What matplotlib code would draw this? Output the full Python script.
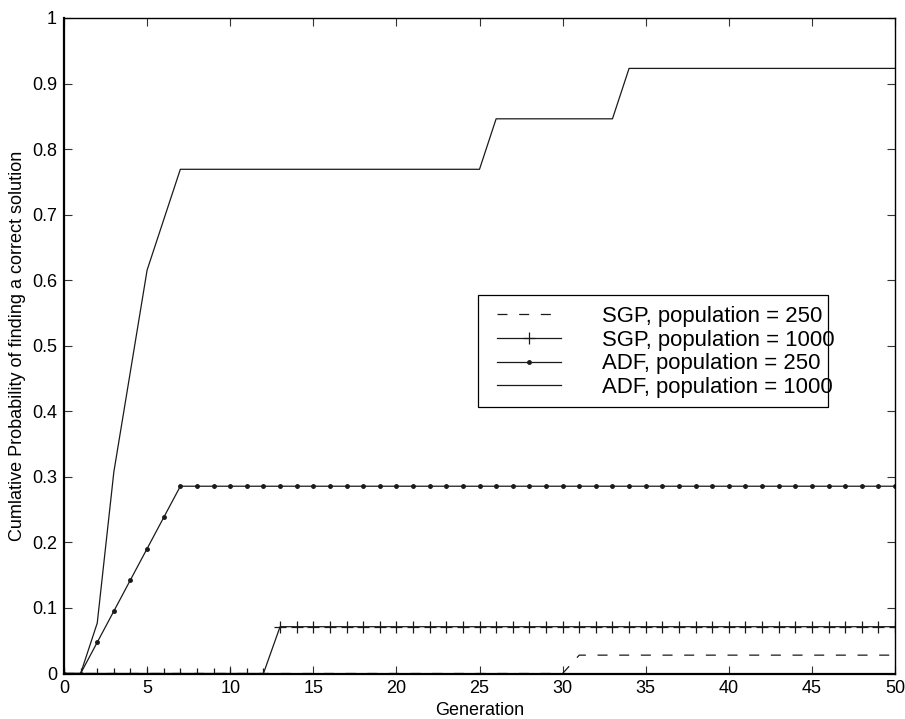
import matplotlib
matplotlib.use("Agg")
import matplotlib.pyplot as plt
from matplotlib.patches import Rectangle
import numpy as np

plt.rcParams['font.family'] = ['Liberation Sans', 'DejaVu Sans']
plt.rcParams['lines.scale_dashes'] = False

generations = list(range(0, 51))

# SGP, population = 250
sgp250 = [0.0] * 31 + [0.028] * 20
# SGP, population = 1000
sgp1000 = [0.0] * 13 + [0.0714] * 38
# ADF, population = 250
adf250 = [0.0, 0.0, 0.0476, 0.0952, 0.1429, 0.1905, 0.2381] + [0.2857] * 44
# ADF, population = 1000
adf1000 = ([0.0, 0.0, 0.0769, 0.3077, 0.4615, 0.6154, 0.6923]
           + [0.7692] * 19 + [0.8462] * 8 + [0.9231] * 17)

labels = ["SGP, population = 250", "SGP, population = 1000",
          "ADF, population = 250", "ADF, population = 1000"]
xticks = list(range(0, 51, 5))
yticks = [round(0.1 * i, 1) for i in range(11)]
yticklabels = ["0", "0.1", "0.2", "0.3", "0.4", "0.5", "0.6", "0.7", "0.8", "0.9", "1"]

fig = plt.figure(figsize=(9.05, 7.19), dpi=100)
W, H = 905, 719
x0, x1, ytop, ybot = 64, 895, 18, 673.5
ax = fig.add_axes([x0 / W, 1 - ybot / H, (x1 - x0) / W, (ybot - ytop) / H])

lc = '#1a1a1a'
lw = 0.9
l1, = ax.plot(generations, sgp250, color=lc, lw=lw, dashes=(7.2, 8.4))
l2, = ax.plot(generations, sgp1000, color=lc, lw=lw, marker='+', markersize=8,
              markeredgewidth=0.9)
l3, = ax.plot(generations, adf250, color=lc, lw=lw, marker='.', markersize=5)
l4, = ax.plot(generations, adf1000, color=lc, lw=lw)

ax.set_xlim(0, 50)
ax.set_ylim(0, 1)
ax.set_xticks(xticks)
ax.set_yticks(yticks)
ax.set_yticklabels(yticklabels)
ax.tick_params(direction='in', length=6, width=0.8, top=True, right=True,
               labelsize=13, pad=5, color='#333333')
for s in ax.spines.values():
    s.set_linewidth(1.0)
ax.spines['bottom'].set_linewidth(1.6)
ax.spines['left'].set_linewidth(1.6)
ax.set_xlabel("Generation", fontsize=13, labelpad=3)
ax.set_ylabel("Cumlative Probability of finding a correct solution", fontsize=13,
              labelpad=4)

def ax_x(px):
    return (px - x0) / (x1 - x0)

def ax_y(py):
    return (ybot - py) / (ybot - ytop)

leg = ax.legend([l1, l2, l3, l4], labels, loc='upper left',
                bbox_to_anchor=(ax_x(497), ax_y(306)), frameon=False,
                fontsize=15.9, handlelength=2.9, handletextpad=1.85,
                labelspacing=0.12, borderpad=0, borderaxespad=0)
rect = Rectangle((ax_x(478), ax_y(407)), ax_x(828) - ax_x(478), ax_y(295) - ax_y(407),
                 transform=ax.transAxes, fill=False, edgecolor='black', lw=0.9,
                 zorder=5)
ax.add_patch(rect)

fig.savefig("out.png", dpi=100)
